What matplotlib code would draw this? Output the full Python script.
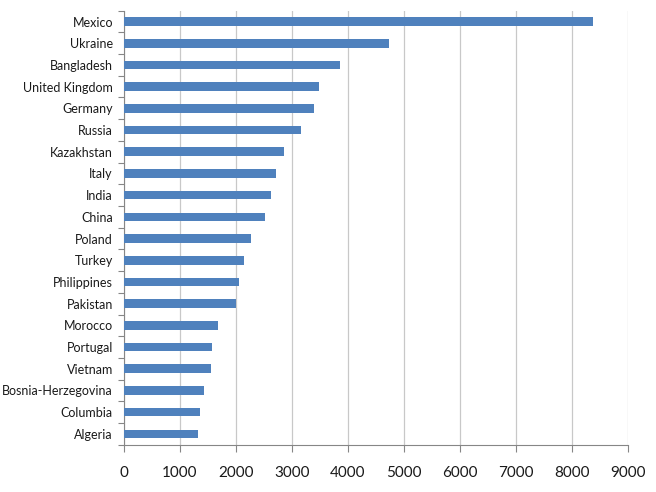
import numpy as np
import matplotlib.pyplot as plt

countries = ['Mexico', 'Ukraine', 'Bangladesh', 'United Kingdom', 'Germany', 'Russia',
             'Kazakhstan', 'Italy', 'India', 'China', 'Poland', 'Turkey', 'Philippines',
             'Pakistan', 'Morocco', 'Portugal', 'Vietnam', 'Bosnia-Herzegovina',
             'Columbia', 'Algeria']
values = [8370, 4730, 3860, 3490, 3400, 3160, 2860, 2720, 2620, 2510, 2260, 2135,
          2045, 2000, 1680, 1565, 1560, 1435, 1365, 1330]

plt.rcParams['font.family'] = ['Lato', 'DejaVu Sans']

fig = plt.figure(figsize=(6.56, 4.92), dpi=100)
ax = fig.add_axes([124/656, (492-444.7)/492, 504/656, (444.7-10.7)/492])

y = np.arange(len(countries))
ax.barh(y, values, height=0.4, color='#4F81BD', zorder=3)

ax.set_xlim(0, 9000)
ax.set_ylim(len(countries) - 0.5, -0.5)
ax.set_xticks(np.arange(0, 9001, 1000))
ax.set_yticks(y)
ax.set_yticklabels(countries, fontsize=9, color='#1a1a1a')
ax.set_yticks(np.arange(-0.5, len(countries), 1), minor=True)
ax.tick_params(axis='y', which='major', length=0, pad=8)
ax.tick_params(axis='y', which='minor', length=4, color='#868686', width=0.8)
ax.tick_params(axis='x', length=5, color='#868686', width=0.8, labelsize=11,
               labelcolor='#1a1a1a', pad=10)

ax.grid(axis='x', color='#c8c8c8', linewidth=0.9, zorder=0)
for s in ['top', 'right']:
    ax.spines[s].set_visible(False)
for s in ['left', 'bottom']:
    ax.spines[s].set_color('#868686')
    ax.spines[s].set_linewidth(0.8)

fig.savefig('out.png', dpi=100)
